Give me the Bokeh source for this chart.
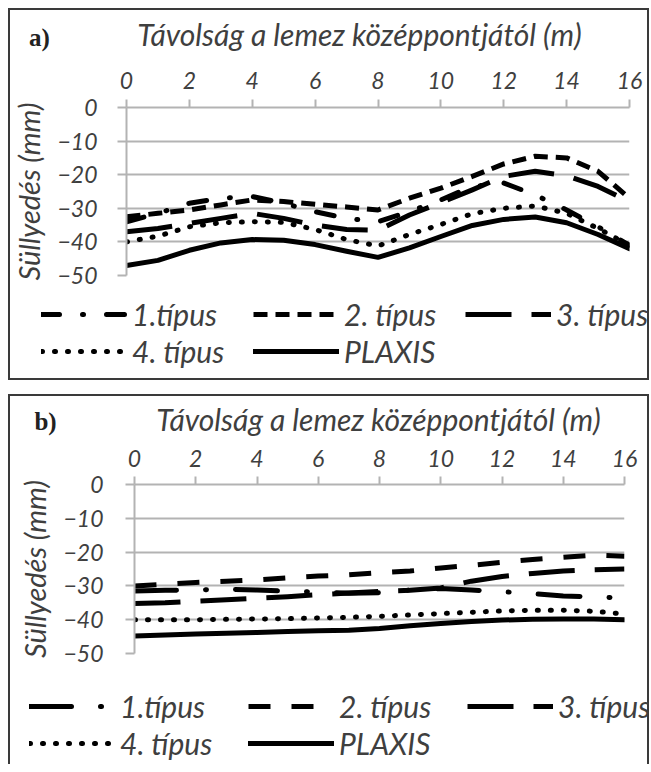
from bokeh.plotting import figure
from bokeh.models import Range1d, Legend, LegendItem, Label, FixedTicker
from bokeh.layouts import column
from bokeh.embed import file_html
from bokeh.resources import INLINE

# ---------------- data ----------------
dist = [0, 1, 2, 3, 4, 5, 6, 7, 8, 9, 10, 11, 12, 13, 14, 15, 16]
x_ticks = [0, 2, 4, 6, 8, 10, 12, 14, 16]
y_ticks = [-50, -40, -30, -20, -10, 0]
series_names = ["1.típus", "2. típus", "3. típus", "4. típus", "PLAXIS"]

# panel a)
a_tipus1 = [-34, -31.5, -28.5, -27, -26.5, -28.5, -31, -33, -34, -31, -27.5, -23.5, -22.5, -26, -30.5, -35.5, -41]
a_tipus2 = [-32.5, -31.5, -30.5, -29, -27.5, -28, -28.8, -29.6, -30.5, -27, -24, -20.5, -16.8, -14.5, -15, -19, -27]
a_tipus3 = [-37, -36, -34.5, -33, -31.5, -33, -35, -36.3, -36.5, -32, -28.3, -24.5, -20.5, -19, -20.3, -23.5, -28]
a_tipus4 = [-40, -38.3, -35.5, -34.3, -34, -34.2, -36.3, -39.3, -41.2, -37.8, -34.8, -31.6, -30, -29.3, -31.5, -36, -41]
a_plaxis = [-47, -45.5, -42.5, -40.3, -39.3, -39.5, -40.8, -42.8, -44.6, -41.8, -38.4, -35.1, -33.3, -32.6, -34.3, -37.8, -42]

# panel b)
b_tipus1 = [-31.5, -31.3, -31.2, -31, -31.2, -31.6, -31.8, -32.2, -32, -31.2, -30.8, -31.2, -31.7, -32.3, -33, -33.2, -33.6]
b_tipus2 = [-30, -29.5, -29, -28.6, -28.2, -27.6, -27.1, -26.7, -26.1, -25.6, -24.7, -23.9, -23, -22.2, -21.5, -20.9, -21.2]
b_tipus3 = [-35.2, -35, -34.5, -34.1, -33.6, -33.2, -32.6, -32.1, -31.6, -31.3, -30.6, -28.6, -27.2, -26.3, -25.6, -25.2, -25]
b_tipus4 = [-40, -40, -40, -39.9, -39.8, -39.7, -39.5, -39.3, -39, -38.6, -38.2, -37.8, -37.4, -37.2, -37.2, -37.5, -38.3]
b_plaxis = [-44.8, -44.5, -44.2, -44, -43.8, -43.5, -43.3, -43.1, -42.6, -41.8, -41.1, -40.5, -40.1, -39.9, -39.8, -39.8, -40]

x_title = "Távolság a lemez középpontjától (m)"
y_title = "Süllyedés (mm)"

FONT = "Lato"
TXT = "#3f3f3f"
GRID = "#b3b3b3"
EDGE = "#3a3a3a"
W = 641


def no_align(f):
    try:
        f.frame_align = False
    except AttributeError:
        pass


def plain_fig(h, shadow):
    """A strip whose frame covers the whole strip (pixel coordinates, y down)."""
    f = figure(width=W, height=h, x_range=Range1d(0, W), y_range=Range1d(h, 0),
               x_axis_location=None, y_axis_location=None,
               min_border=0, min_border_left=0, min_border_right=0,
               min_border_top=0, min_border_bottom=0,
               output_backend="svg", toolbar_location=None)
    f.outline_line_color = None
    f.background_fill_color = None
    f.border_fill_color = None
    f.grid.visible = False
    f.styles = {"box-shadow": shadow}
    no_align(f)
    return f


def make_panel(tag, values, dashes, caps, head_h, main_h, foot_h,
               left, right, top, bottom, title_pos, tag_pos,
               legend_loc, label_width, x_tick_stand, y_tick_stand, bottom_edge):
    side = f"inset 2px 0 0 0 {EDGE}, inset -2px 0 0 0 {EDGE}"

    # ---- header: panel tag and horizontal axis title
    head = plain_fig(head_h, side + f", inset 0 2px 0 0 {EDGE}")
    head.add_layout(Label(x=title_pos[0], y=title_pos[1], text=x_title,
                          text_font=FONT, text_font_style="italic",
                          text_font_size="30px", text_color=TXT,
                          text_align="center", text_baseline="middle"))
    head.add_layout(Label(x=tag_pos[0], y=tag_pos[1], text=tag,
                          text_font="Liberation Serif", text_font_style="bold",
                          text_font_size="25px", text_color="#222222",
                          text_align="center", text_baseline="middle"))

    # ---- main chart
    p = figure(width=W, height=main_h,
               x_range=Range1d(0, 16), y_range=Range1d(-50, 0),
               x_axis_location="above",
               min_border_left=left, min_border_right=right,
               min_border_top=top, min_border_bottom=bottom,
               output_backend="svg", toolbar_location=None)
    no_align(p)
    p.outline_line_color = None
    p.background_fill_color = "white"
    p.border_fill_color = None
    p.styles = {"box-shadow": side}

    p.xgrid.visible = False
    p.ygrid.grid_line_color = GRID
    p.ygrid.grid_line_width = 2

    xa = p.xaxis[0]
    xa.ticker = FixedTicker(ticks=x_ticks)
    xa.major_label_text_font = FONT
    xa.major_label_text_font_style = "italic"
    xa.major_label_text_font_size = "23px"
    xa.major_label_text_color = TXT
    xa.major_label_standoff = x_tick_stand
    xa.axis_line_color = GRID
    xa.axis_line_width = 2
    xa.major_tick_line_color = GRID
    xa.major_tick_line_width = 2
    xa.major_tick_out = 8
    xa.major_tick_in = 0
    xa.minor_tick_line_color = None

    ya = p.yaxis[0]
    ya.ticker = FixedTicker(ticks=y_ticks)
    ya.axis_label = y_title
    ya.axis_label_text_font = FONT
    ya.axis_label_text_font_style = "italic"
    ya.axis_label_text_font_size = "29px"
    ya.axis_label_text_color = TXT
    ya.axis_label_standoff = 8
    ya.major_label_text_font = FONT
    ya.major_label_text_font_style = "italic"
    ya.major_label_text_font_size = "23px"
    ya.major_label_text_color = TXT
    ya.major_label_standoff = y_tick_stand
    ya.axis_line_color = GRID
    ya.axis_line_width = 2
    ya.major_tick_line_color = GRID
    ya.major_tick_line_width = 2
    ya.major_tick_out = 9
    ya.major_tick_in = 0
    ya.minor_tick_line_color = None

    # ---- footer: legend (proxy renderers share the series data but lie outside the strip)
    foot_shadow = side + (f", inset 0 -2px 0 0 {EDGE}" if bottom_edge else "")
    foot = plain_fig(foot_h, foot_shadow)

    items = []
    for name, vals, dash, cap in zip(series_names, values, dashes, caps):
        style = dict(line_color="black", line_width=5, line_dash=dash,
                     line_cap=cap, line_join="round")
        p.line(dist, vals, **style)
        proxy = foot.line(dist, vals, **style)
        items.append(LegendItem(label=name, renderers=[proxy]))

    leg = Legend(items=items, ncols=3, orientation="horizontal",
                 location=legend_loc)
    leg.border_line_color = None
    leg.background_fill_alpha = 0
    leg.padding = 0
    leg.margin = 0
    leg.spacing = 1
    leg.glyph_width = 86
    leg.glyph_height = 34
    leg.label_height = 34
    leg.label_width = label_width
    leg.label_standoff = 5
    leg.label_text_font = FONT
    leg.label_text_font_style = "italic"
    leg.label_text_font_size = "30px"
    leg.label_text_color = TXT
    leg.label_text_baseline = "middle"
    foot.add_layout(leg)

    return column(head, p, foot, spacing=0)


pa = make_panel("a)", [a_tipus1, a_tipus2, a_tipus3, a_tipus4, a_plaxis],
                ["18 23 1 23", "14 8", "46 20", "1 12", "solid"],
                ["round", "butt", "butt", "round", "round"],
                50, 234, 88,
                114, 20, 49, 17,
                (351, 25), (31, 29),
                (33, 11), 120, 11, 20, True)

pb = make_panel("b)", [b_tipus1, b_tipus2, b_tipus3, b_tipus4, b_plaxis],
                ["42 29 1 29", "22 21", "46 20", "1 12", "solid"],
                ["round", "butt", "butt", "round", "round"],
                43, 233, 94,
                126, 25, 47, 17,
                (370, 24), (37, 27),
                (21, 3), 127, 10, 22, False)

layout = column(pa, pb, spacing=14, margin=(8, 0, 0, 8))

open("out.html", "w").write(file_html(layout, INLINE))
